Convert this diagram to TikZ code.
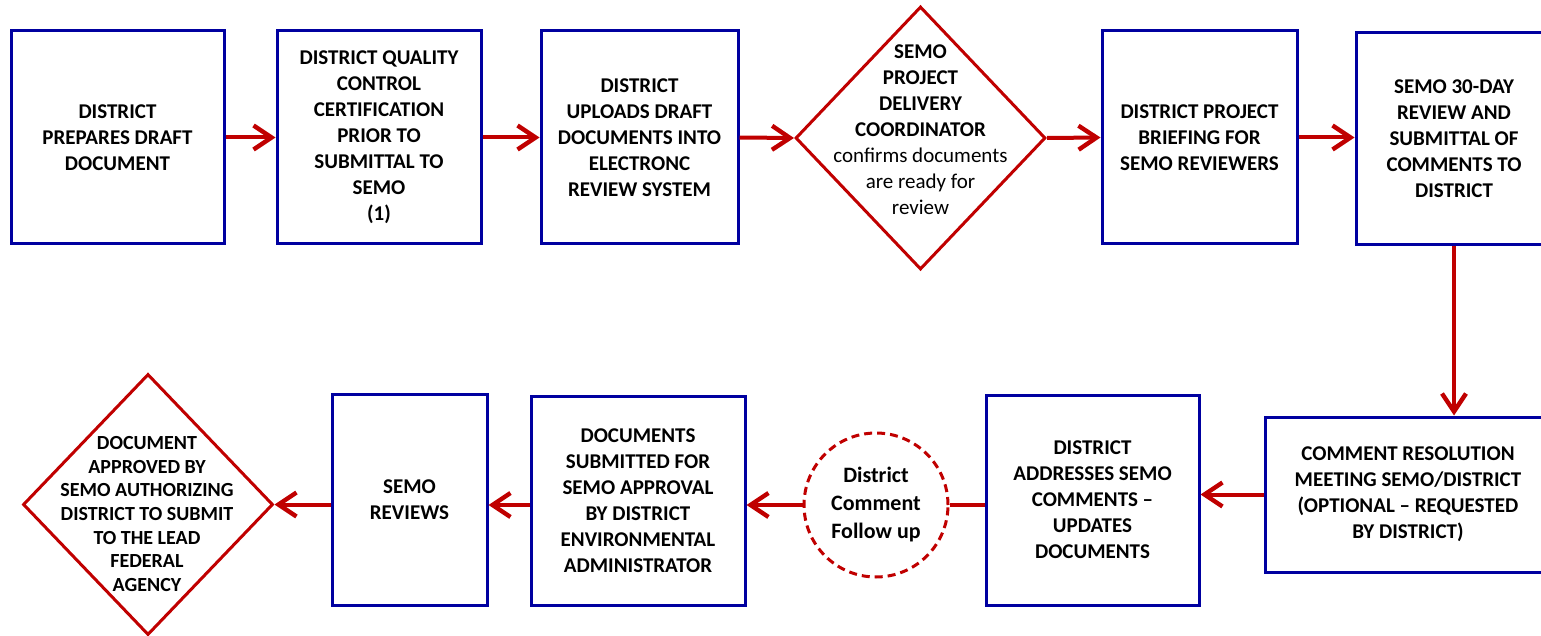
\documentclass[tikz,border=0pt]{standalone}
\usepackage{fontspec}
\setmainfont{Carlito}
\usepackage{tikz}
\usetikzlibrary{shapes.geometric,arrows.meta}
\definecolor{boxblue}{HTML}{0000A0}
\definecolor{flowred}{HTML}{C00000}
\tikzset{
    stepbox/.style={draw=boxblue, line width=1.5pt, fill=white, align=center, inner sep=0pt,
        font=\bfseries\fontsize{10.5}{13}\selectfont},
    decision/.style={draw=flowred, line width=1.5pt, shape=diamond, inner sep=0pt},
    dectext/.style={align=center, inner sep=0pt, font=\bfseries\fontsize{10.5}{13}\selectfont},
    followstyle/.style={draw=flowred, line width=1.5pt, circle, dash pattern=on 4pt off 2.5pt,
        align=center, inner sep=0pt, font=\bfseries\fontsize{11}{14}\selectfont},
    flow/.style={draw=flowred, line width=2pt, -{Straight Barb[length=9pt,width=12pt,line width=2.2pt]}},
}
\begin{document}
\begin{tikzpicture}[x=0.5pt, y=-0.5pt]
\useasboundingbox (0,0) rectangle (1541,636);
% top row
\node[stepbox, minimum width=106.5pt, minimum height=106.5pt] (prep) at (117.5,137.5) {DISTRICT\\PREPARES DRAFT\\DOCUMENT};
\node[stepbox, minimum width=102pt, minimum height=106.5pt] (qc) at (379,137.5) {DISTRICT QUALITY\\CONTROL\\CERTIFICATION\\PRIOR TO\\SUBMITTAL TO\\SEMO\\(1)};
\node[stepbox, minimum width=98.5pt, minimum height=106.5pt] (upload) at (639.5,137.5) {DISTRICT\\UPLOADS DRAFT\\DOCUMENTS INTO\\ELECTRONC\\REVIEW SYSTEM};
\node[decision, minimum width=125pt, minimum height=131.5pt] (pdc) at (920.5,138) {};
\node[dectext] (pdctext) at (920.5,130) {SEMO\\PROJECT\\DELIVERY\\COORDINATOR\\\mdseries confirms documents\\\mdseries are ready for\\\mdseries review};
\node[stepbox, minimum width=97.5pt, minimum height=106.5pt] (brief) at (1199.5,137.5) {DISTRICT PROJECT\\BRIEFING FOR\\SEMO REVIEWERS};
\node[stepbox, minimum width=98pt, minimum height=106pt] (review) at (1454,138.5) {SEMO 30-DAY\\REVIEW AND\\SUBMITTAL OF\\COMMENTS TO\\DISTRICT};
% bottom row
\node[stepbox, minimum width=143pt, minimum height=77.5pt] (resolve) at (1408,494.5) {COMMENT RESOLUTION\\MEETING SEMO/DISTRICT\\(OPTIONAL -- REQUESTED\\BY DISTRICT)};
\node[stepbox, minimum width=106.5pt, minimum height=105pt] (address) at (1092.5,500) {DISTRICT\\ADDRESSES SEMO\\COMMENTS --\\UPDATES\\DOCUMENTS};
\node[followstyle, minimum size=72pt] (followup) at (876,505) {District\\Comment\\Follow up};
\node[stepbox, minimum width=107pt, minimum height=104.5pt] (submit) at (638,500.5) {DOCUMENTS\\SUBMITTED FOR\\SEMO APPROVAL\\BY DISTRICT\\ENVIRONMENTAL\\ADMINISTRATOR};
\node[stepbox, minimum width=77.5pt, minimum height=105.5pt] (semorev) at (409.5,499.5) {SEMO\\REVIEWS};
\node[decision, minimum width=125pt, minimum height=130.5pt] (approve) at (148,504.5) {};
\node[dectext, font=\bfseries\fontsize{10}{11.85}\selectfont] (approvetext) at (147,514) {DOCUMENT\\APPROVED BY\\SEMO AUTHORIZING\\DISTRICT TO SUBMIT\\TO THE LEAD\\FEDERAL\\AGENCY};
% connectors
\draw[flow] (prep.east) -- (qc.west);
\draw[flow] (qc.east) -- (upload.west);
\draw[flow] (upload.east) -- (pdc.west);
\draw[flow] (pdc.east) -- (brief.west);
\draw[flow] (brief.east) -- (review.west |- brief.east);
\draw[flow] (review.south) -- (review.south |- resolve.north);
\draw[flow] (resolve.west) -- (address.east |- resolve.west);
\draw[flowred, line width=2pt] (address.west |- followup.east) -- (followup.east);
\draw[flow] (followup.west) -- (submit.east |- followup.west);
\draw[flow] (submit.west |- followup.west) -- (semorev.east |- followup.west);
\draw[flow] (semorev.west |- approve.east) -- (approve.east);
\end{tikzpicture}
\end{document}
